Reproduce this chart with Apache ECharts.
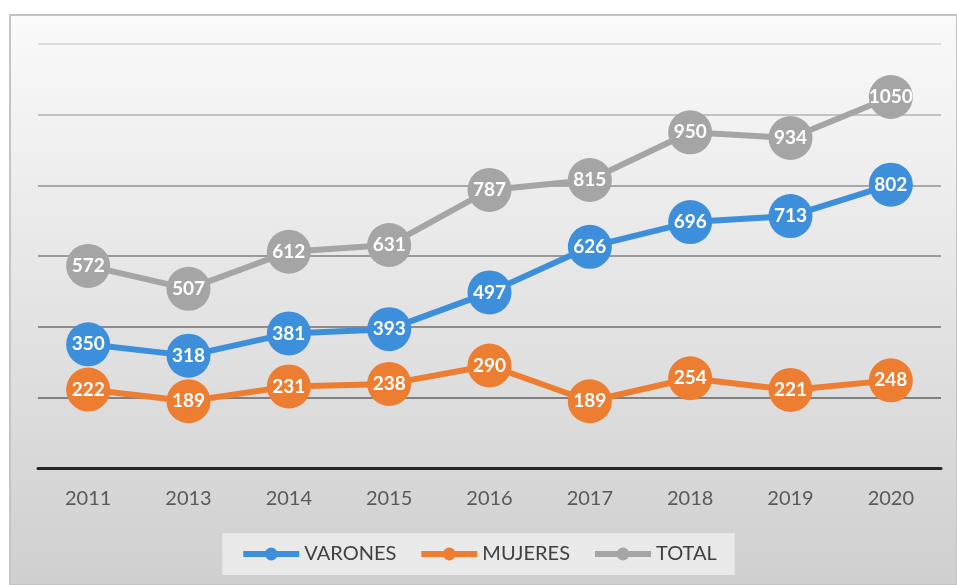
<!DOCTYPE html>
<html>
<head>
<meta charset="utf-8">
<style>
  html, body { margin: 0; padding: 0; background: #ffffff; }
  #chart { width: 957px; height: 585px; }
</style>
<script src="https://cdn.jsdelivr.net/npm/echarts@6/dist/echarts.min.js"></script>
</head>
<body>
<div id="chart"></div>
<script>
  const years = ['2011', '2013', '2014', '2015', '2016', '2017', '2018', '2019', '2020'];
  const varones = [350, 318, 381, 393, 497, 626, 696, 713, 802];
  const mujeres = [222, 189, 231, 238, 290, 189, 254, 221, 248];
  const total = [572, 507, 612, 631, 787, 815, 950, 934, 1050];

  const font = 'Lato, "Open Sans", sans-serif';

  function lineSeries(name, data, color) {
    return {
      name: name,
      type: 'line',
      data: data,
      symbol: 'circle',
      symbolSize: 44,
      itemStyle: { color: color },
      lineStyle: { color: color, width: 6 },
      label: {
        show: true,
        position: 'inside',
        color: '#ffffff',
        fontFamily: font,
        fontWeight: 'bold',
        fontSize: 19
      },
      emphasis: { disabled: true }
    };
  }

  let chart = echarts.init(document.getElementById('chart'));
  chart.setOption({
    animation: false,
    graphic: [{
      type: 'rect',
      z: -100,
      shape: { x: 10, y: 15, width: 947, height: 570 },
      style: {
        fill: new echarts.graphic.LinearGradient(0, 0, 0, 1, [
          { offset: 0, color: '#fafafa' },
          { offset: 0.5, color: '#e4e4e4' },
          { offset: 1, color: '#cfcfcf' }
        ]),
        stroke: '#c4c4c4',
        lineWidth: 2
      }
    }],
    grid: { left: 38, right: 16, top: 44, bottom: 117 },
    legend: {
      bottom: 10,
      left: 'center',
      backgroundColor: '#e9e9e9',
      padding: [11, 18],
      itemWidth: 56,
      itemHeight: 16,
      itemGap: 22,
      lineStyle: { width: 6 },
      textStyle: { color: '#404040', fontFamily: font, fontSize: 20 },
      data: ['VARONES', 'MUJERES', 'TOTAL']
    },
    xAxis: {
      type: 'category',
      data: years,
      axisLine: { lineStyle: { color: '#262626', width: 3 } },
      axisTick: { show: false },
      axisLabel: { color: '#595959', fontFamily: font, fontSize: 20, margin: 21 }
    },
    yAxis: {
      type: 'value',
      min: 0,
      max: 1200,
      interval: 200,
      axisLabel: { show: false },
      axisLine: { show: false },
      axisTick: { show: false },
      splitLine: {
        lineStyle: {
          width: 2,
          color: ['#262626', '#808080', '#8c8c8c', '#9a9a9a', '#a8a8a8', '#c2c2c2', '#dcdcdc']
        }
      }
    },
    series: [
      lineSeries('VARONES', varones, '#3d8fdc'),
      lineSeries('MUJERES', mujeres, '#ed7d31'),
      lineSeries('TOTAL', total, '#a5a5a5')
    ]
  });
</script>
</body>
</html>
